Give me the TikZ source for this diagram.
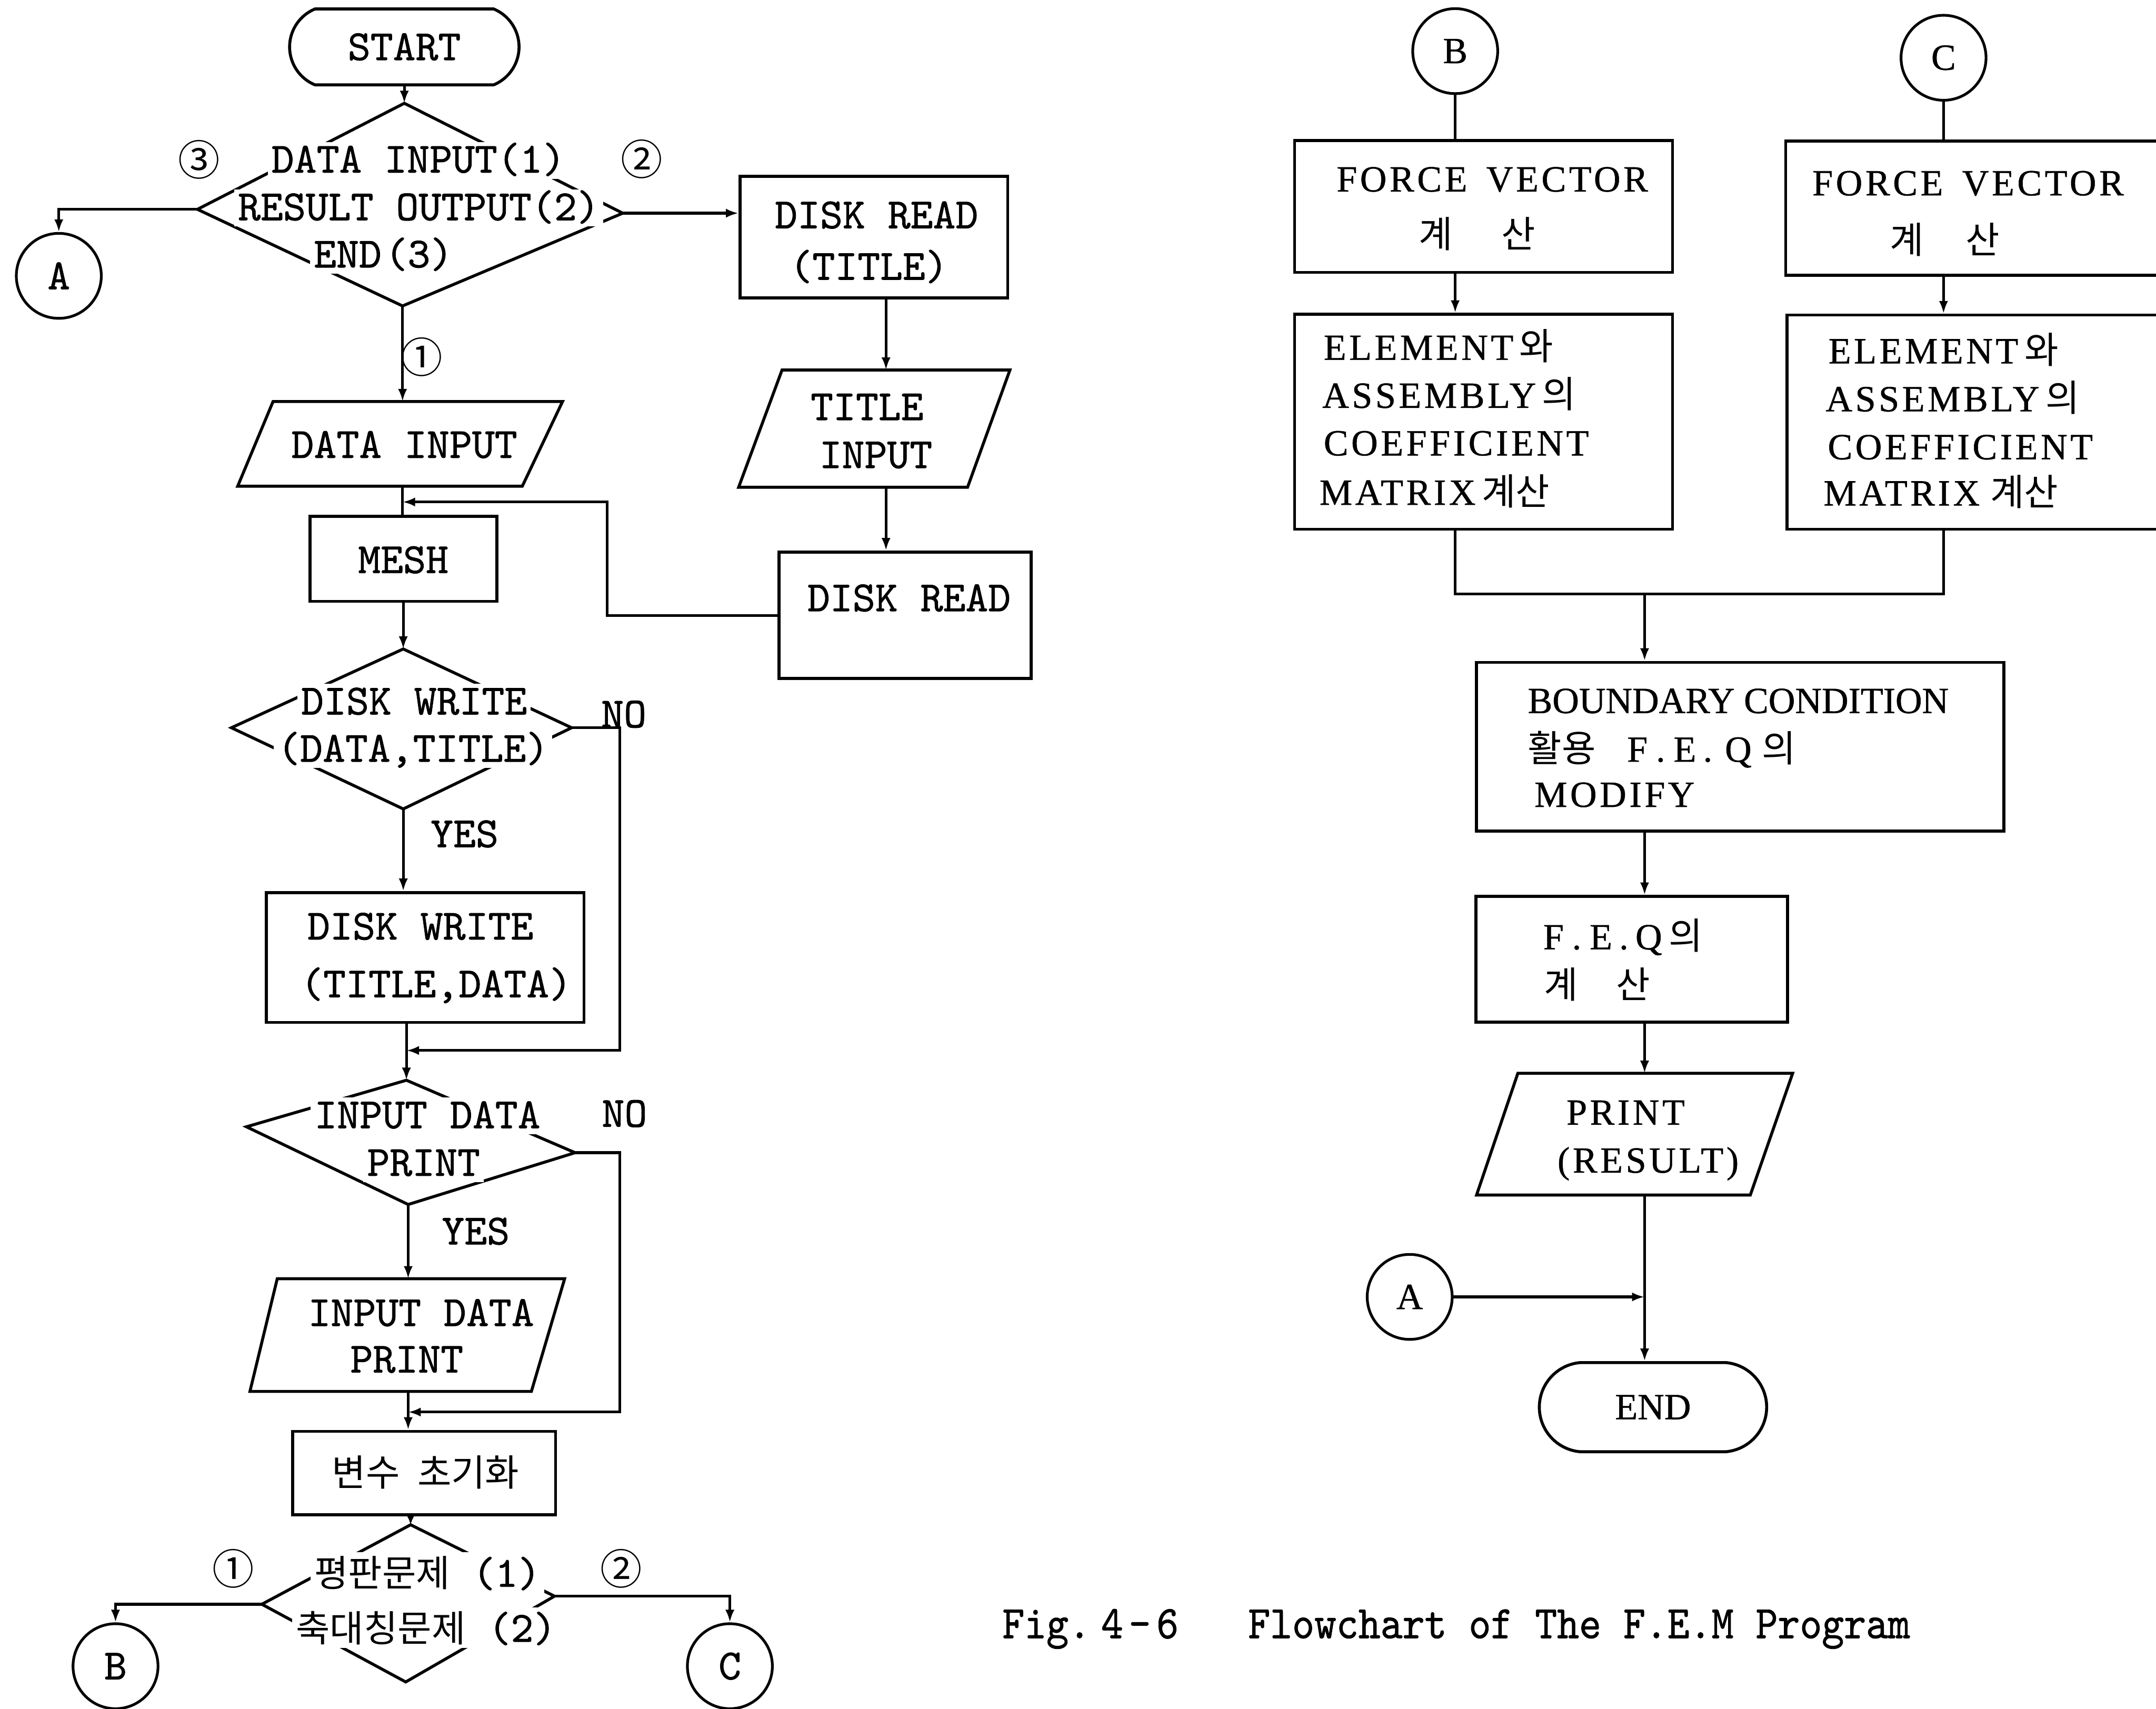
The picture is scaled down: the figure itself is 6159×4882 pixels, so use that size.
\documentclass[tikz,border=0pt]{standalone}
\usepackage{fontspec}
\usepackage{graphicx}
\usetikzlibrary{shapes.misc,arrows.meta,fit}
\newfontfamily\monoL[FakeBold=1.0]{lmmono10-regular.otf}
\newfontfamily\monoCap[FakeBold=1.0,FakeStretch=0.9]{lmmono10-regular.otf}
\newfontfamily\serifR[LetterSpace=8,FakeBold=0.8]{Liberation Serif}
\newfontfamily\serifRn[FakeBold=0.8]{Liberation Serif}
\newfontfamily\hangul{Noto Sans CJK KR}
\newcommand\Lfont{\monoL\fontsize{17.5}{19}\selectfont}
\newcommand\Capfont{\monoCap\fontsize{19}{21}\selectfont}
\newcommand\Rfont{\serifR\fontsize{15}{17}\selectfont}
\newcommand\RfontN{\serifRn\fontsize{15}{17}\selectfont}
\newcommand\Kr[1]{{\hangul\fontsize{15}{17}\selectfont #1}}
\begin{document}
\begin{tikzpicture}[x=0.005cm,y=-0.005cm,
  ln/.style={line width=1.1pt},
  arr/.style={ln,-{Latex[length=0.18cm,width=0.13cm]}},
  shp/.style={line width=1.2pt,line join=miter},
  box/.style={draw,shp,inner sep=0pt},
  conn/.style={draw,circle,ln,minimum size=1.215cm,inner sep=0pt},
  term/.style={draw,shp,rounded rectangle,inner sep=0pt},
  lt/.style={font=\Lfont,anchor=base,inner sep=0pt},
  dt/.style={font=\Lfont,anchor=base,fill=white,inner sep=1.5pt,text height=11pt,text depth=1pt},
  rt/.style={font=\Rfont,anchor=base west,inner sep=0pt},
  rc/.style={font=\Rfont,anchor=base,inner sep=0pt},
  cn/.style={font=\hangul\fontsize{17}{19}\selectfont,inner sep=0pt}]
\useasboundingbox (0,0) rectangle (6159,4882);
\clip (0,0) rectangle (6159,4882);

% ---------------- left column ----------------
\node[term,rounded rectangle arc length=135,minimum width=3.28cm,minimum height=1.085cm,font=\Lfont] (start) at (1155,134) {START};

% selection of the run mode
\coordinate (d1t) at (1155,295);
\coordinate (d1r) at (1779,609);
\coordinate (d1b) at (1150,874);
\coordinate (d1l) at (564,598);
\draw[shp] (d1t) -- (d1r) -- (d1b) -- (d1l) -- cycle;
\draw[arr] (start.south) -- (d1t);
\node[dt] (d1a) at (1195,493) {DATA INPUT(1)};
\node[dt] (d1c) at (1196,629) {RESULT OUTPUT(2)};
\node[dt] (d1e) at (1095,764) {END\hspace{0.05cm}(3)};
\node[cn] (n13) at (568,456) {③};
\node[cn] (n12) at (1833,454) {②};
\node[cn] (n11) at (1205,1020) {①};

\node[conn,font=\Lfont] (cA) at (168,788) {A};
\draw[arr] (d1l) -| (cA.north);

% title branch
\node[box,fit={(2114,504) (2879,851)}] (rd1) {};
\node[lt] (rd1a) at (2504,652) {DISK READ};
\node[lt] (rd1b) at (2482,799) {(TITLE)};
\draw[arr] (d1r) -- (d1r -| rd1.west);

\coordinate (colT) at (2531,0);
\coordinate (ti1) at (2234,1057);
\coordinate (ti2) at (2885,1057);
\coordinate (ti3) at (2764,1392);
\coordinate (ti4) at (2110,1392);
\draw[shp] (ti1) -- (ti2) -- (ti3) -- (ti4) -- cycle;
\node[lt] (tia) at (2477,1200) {TITLE};
\node[lt] (tib) at (2502,1337) {INPUT};
\draw[arr] (colT |- rd1.south) -- (colT |- ti1);

\node[box,fit={(2225,1577) (2946,1938)}] (rd2) {};
\node[lt] (rd2a) at (2597,1746) {DISK READ};
\draw[arr] (colT |- ti3) -- (colT |- rd2.north);

% data input and mesh
\coordinate (di1) at (780,1147);
\coordinate (di2) at (1607,1147);
\coordinate (di3) at (1492,1389);
\coordinate (di4) at (679,1389);
\draw[shp] (di1) -- (di2) -- (di3) -- (di4) -- cycle;
\node[lt] (dia) at (1155,1308) {DATA INPUT};
\draw[arr] (d1b) -- (d1b |- di1);

\coordinate (colM) at (1150,0);
\node[box,fit={(886,1475) (1419,1718)}] (mesh) {};
\node[lt] (mesha) at (1152,1637) {MESH};
\draw[ln] (colM |- di3) -- (colM |- mesh.north);

\coordinate (fb) at (1735,1759);
\coordinate (fbj) at (1150,1434);
\draw[arr] (rd2.west |- fb) -- (fb) |- (fbj);

% disk write decision
\coordinate (d2t) at (1152,1854);
\coordinate (d2r) at (1633,2079);
\coordinate (d2b) at (1152,2311);
\coordinate (d2l) at (661,2079);
\draw[shp] (d2t) -- (d2r) -- (d2b) -- (d2l) -- cycle;
\draw[arr] (mesh.south -| d2t) -- (d2t);
\node[dt] (d2a) at (1183,2041) {DISK WRITE};
\node[dt] (d2c) at (1180,2176) {(DATA,TITLE)};
\node[lt] (no1) at (1782,2078) {NO};
\node[lt] (yes1) at (1327,2420) {YES};

\node[box,fit={(761,2550) (1668,2921)}] (dw) {};
\node[lt] (dwa) at (1201,2684) {DISK WRITE};
\node[lt] (dwb) at (1246,2849) {(TITLE,DATA)};
\draw[arr] (d2b) -- (d2b |- dw.north);

\coordinate (nob) at (1770,0);
\coordinate (j1) at (1161,3001);
\draw[arr] (d2r) -- (d2r -| nob) |- (j1);

% print decision
\coordinate (d3t) at (1161,3086);
\coordinate (d3r) at (1643,3293);
\coordinate (d3b) at (1166,3441);
\coordinate (d3l) at (704,3219);
\draw[shp] (d3t) -- (d3r) -- (d3b) -- (d3l) -- cycle;
\draw[arr] (dw.south -| j1) -- (d3t);
\node[dt] (d3a) at (1221,3223) {INPUT DATA};
\node[dt] (d3c) at (1210,3359) {PRINT};
\node[lt] (no2) at (1784,3219) {NO};
\node[lt] (yes2) at (1359,3555) {YES};

\coordinate (idp1) at (792,3653);
\coordinate (idp2) at (1613,3653);
\coordinate (idp3) at (1518,3975);
\coordinate (idp4) at (714,3975);
\draw[shp] (idp1) -- (idp2) -- (idp3) -- (idp4) -- cycle;
\node[lt] (idpa) at (1203,3788) {INPUT DATA};
\node[lt] (idpb) at (1162,3921) {PRINT};
\draw[arr] (d3b) -- (d3b |- idp1);

\coordinate (j2) at (1166,4034);
\draw[arr] (d3r) -- (d3r -| nob) |- (j2);

% initialisation
\node[box,fit={(836,4089) (1587,4327)}] (init) {};
\node[anchor=base,inner sep=0pt] (inita) at (1216,4246) {\Kr{변수\hspace{0.25cm}초기화}};
\draw[arr] (j2 |- idp3) -- (j2 |- init.north);

% problem type
\coordinate (d4t) at (1173,4356);
\coordinate (d4r) at (1584,4560);
\coordinate (d4b) at (1159,4805);
\coordinate (d4l) at (748,4583);
\draw[shp] (d4t) -- (d4r) -- (d4b) -- (d4l) -- cycle;
\draw[ln,-{Latex[length=0.13cm,width=0.11cm]}] (d4t |- init.south) -- (d4t);
\node[dt,text height=12.5pt] (d4a) at (1221,4533) {\Kr{평판문제} (1)};
\node[dt,text height=12.5pt] (d4c) at (1217,4690) {\Kr{축대칭문제} (2)};
\node[cn] (n21) at (667,4481) {①};
\node[cn] (n22) at (1775,4481) {②};
\node[conn,font=\Lfont] (cB) at (330,4760) {B};
\node[conn,font=\Lfont] (cC) at (2085,4760) {C};
\draw[arr] (d4l) -| (cB.north);
\draw[arr] (d4r) -| (cC.north);

% ---------------- right column ----------------
\node[conn,font=\RfontN] (rB) at (4157,146) {B};
\node[conn,font=\RfontN] (rC) at (5552,165) {C};

\node[box,fit={(3698,401) (4778,778)}] (fvB) {};
\node[box,fit={(3698,898) (4778,1512)}] (emB) {};
\node[box,fit={(5101,403) (6250,786)}] (fvC) {};
\node[box,fit={(5105,900) (6250,1512)}] (emC) {};

\draw[ln] (rB.south) -- (rB.south |- fvB.north);
\draw[arr] (rB.south |- fvB.south) -- (rB.south |- emB.north);
\draw[ln] (rC.south) -- (rC.south |- fvC.north);
\draw[arr] (rC.south |- fvC.south) -- (rC.south |- emC.north);

\node[rc] (fvBa) at (4263,547) {FORCE\hspace{0.1cm} VECTOR};
\node[rc] (fvBb) at (4220,708) {\Kr{계\hspace{0.7cm}산}};
\node[rt] (emB1) at (3780,1028) {ELEMENT\,\Kr{와}};
\node[rt] (emB2) at (3776,1165) {ASSEMBLY\,\Kr{의}};
\node[rt] (emB3) at (3780,1301) {COEFFICIENT};
\node[rt] (emB4) at (3768,1442) {MATRIX\,\Kr{계산}};

\node[rt] (fvCa) at (5176,558) {FORCE\hspace{0.1cm} VECTOR};
\node[rc] (fvCb) at (5555,724) {\Kr{계\hspace{0.6cm}산}};
\node[rt] (emC1) at (5222,1038) {ELEMENT\,\Kr{와}};
\node[rt] (emC2) at (5214,1175) {ASSEMBLY\,\Kr{의}};
\node[rt] (emC3) at (5220,1312) {COEFFICIENT};
\node[rt] (emC4) at (5208,1444) {MATRIX\hspace{0.15cm}\Kr{계산}};

\coordinate (mg) at (4698,1697);
\draw[ln] (rB.south |- emB.south) |- (mg) -| (rC.south |- emC.south);

\node[box,fit={(4218,1892) (5724,2374)}] (bc) {};
\draw[arr] (mg) -- (mg |- bc.north);
\node[rt,font=\RfontN] (bc1) at (4363,2037) {BOUNDARY CONDITION};
\node[rt] (bc2) at (4363,2176) {\Kr{활용}\hspace{0.45cm}F\hspace{0.12cm}.\hspace{0.12cm}E\hspace{0.1cm}.\hspace{0.18cm}Q\hspace{0.15cm}\Kr{의}};
\node[rt] (bc3) at (4382,2305) {MODIFY};

\coordinate (colR) at (4698,0);
\node[box,fit={(4216,2561) (5106,2920)}] (feq) {};
\draw[arr] (colR |- bc.south) -- (colR |- feq.north);
\node[rt] (feq1) at (4407,2712) {F\hspace{0.12cm}.\hspace{0.12cm}E\hspace{0.1cm}.\hspace{0.1cm}Q\hspace{0.1cm}\Kr{의}};
\node[rt] (feq2) at (4409,2851) {\Kr{계\hspace{0.55cm}산}};

\coordinate (pr1) at (4336,3066);
\coordinate (pr2) at (5121,3066);
\coordinate (pr3) at (5000,3414);
\coordinate (pr4) at (4218,3414);
\draw[shp] (pr1) -- (pr2) -- (pr3) -- (pr4) -- cycle;
\draw[arr] (colR |- feq.south) -- (colR |- pr1);
\node[rc] (prA) at (4644,3213) {PRINT};
\node[rc] (prB) at (4708,3350) {(RESULT)};

\node[term,rounded rectangle arc length=170,minimum width=3.25cm,minimum height=1.275cm,font=\RfontN] (endn) at (4722,4020) {END};
\draw[arr] (colR |- pr3) -- (colR |- endn.north);
\node[conn,font=\RfontN] (rA) at (4027,3705) {A};
\draw[arr] (rA.east) -- (rA.east -| colR);

% caption
\node[font=\Capfont,anchor=base west,inner sep=0pt] (cap1) at (2862,4680) {Fig.\hspace{0.15cm}4\hspace{0.08cm}-\hspace{0.08cm}6};
\node[font=\Capfont,anchor=base west,inner sep=0pt] (cap2) at (3564,4680) {Flowchart of The F.E.M Program};
\end{tikzpicture}
\end{document}
